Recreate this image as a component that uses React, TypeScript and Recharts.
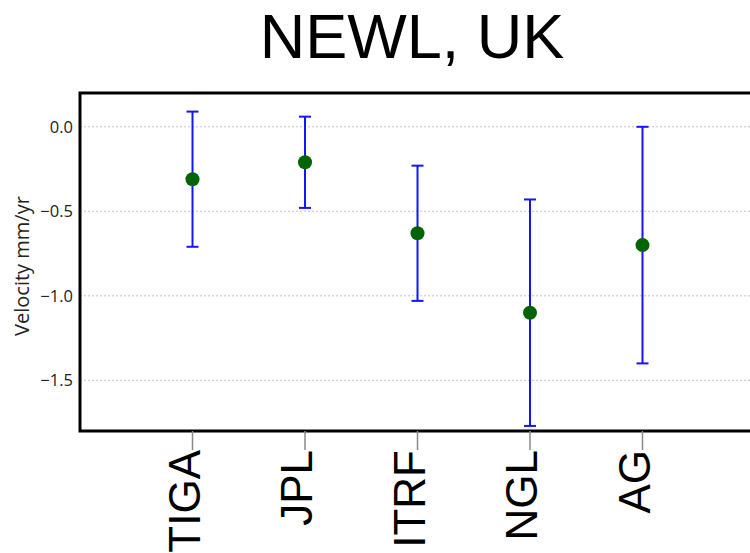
// App.tsx
//
// Velocity estimates for the NEWL (UK) station from five solutions,
// each shown as a point with a symmetric y error bar.

import React from "react";
import {
  ComposedChart,
  Scatter,
  ErrorBar,
  XAxis,
  YAxis,
  CartesianGrid,
  ReferenceArea,
} from "recharts";

const solutions = ["TIGA", "JPL", "ITRF", "NGL", "AG"];
const velocities = [-0.31, -0.21, -0.63, -1.1, -0.7];
const uncertainties = [0.4, 0.27, 0.4, 0.67, 0.7];
const yTicks = [-1.5, -1.0, -0.5, 0.0];
const xPositions = [1, 2, 3, 4, 5];

const data = solutions.map((name, i) => ({
  x: xPositions[i],
  name,
  v: velocities[i],
  err: uncertainties[i],
}));

function fmtTick(v: number) {
  const s = Math.abs(v).toFixed(1);
  return v < 0 ? `\u2212${s}` : s;
}

function CategoryTick(props: any) {
  const { x, y, payload } = props;
  const label = solutions[xPositions.indexOf(payload.value)] ?? "";
  return (
    <text
      x={x}
      y={y}
      dy={7}
      transform={`rotate(-90, ${x}, ${y})`}
      textAnchor="end"
      fontFamily="'Liberation Sans', Arial, sans-serif"
      fontSize={44}
      fill="#000"
    >
      {label}
    </text>
  );
}

function Dot(props: any) {
  return <circle cx={props.cx} cy={props.cy} r={7} fill="#006400" />;
}

export default function App() {
  return (
    <div
      style={{
        position: "absolute",
        left: 0,
        top: 0,
        width: 750,
        height: 553,
        overflow: "hidden",
        background: "#fff",
      }}
    >
      <div
        style={{
          position: "absolute",
          left: 112,
          top: 0,
          width: 600,
          textAlign: "center",
          fontFamily: "'Liberation Sans', Arial, sans-serif",
          fontSize: 63,
          lineHeight: "72px",
          color: "#000",
        }}
      >
        NEWL, UK
      </div>
      <ComposedChart
        width={780}
        height={553}
        data={data}
        margin={{ top: 93, right: 25, bottom: 0, left: 0 }}
      >
        <CartesianGrid
          vertical={false}
          stroke="#c4c4c4"
          strokeDasharray="2 2"
        />
        <XAxis
          xAxisId="top"
          orientation="top"
          type="number"
          dataKey="x"
          domain={[0, 6]}
          ticks={xPositions}
          height={0}
          axisLine={false}
          tickSize={23}
          tickLine={{ stroke: "#8a8a8a", strokeWidth: 1.5 }}
          tick={() => null}
        />
        <XAxis
          type="number"
          dataKey="x"
          domain={[0, 6]}
          ticks={xPositions}
          height={122}
          axisLine={false}
          tickSize={19}
          tickMargin={0}
          tickLine={{ stroke: "#8a8a8a", strokeWidth: 1.5 }}
          tick={<CategoryTick />}
          interval={0}
        />
        <YAxis
          type="number"
          domain={[-1.8, 0.2]}
          ticks={yTicks}
          allowDataOverflow
          width={80}
          axisLine={false}
          tickLine={false}
          tickSize={0}
          tickMargin={7}
          tickFormatter={fmtTick}
          tick={{
            fontFamily: "'Open Sans', sans-serif",
            fontSize: 16.5,
            fill: "#222",
          }}
          label={{
            content: (p: any) => {
              const vb = p.viewBox || {};
              const cy = (vb.y ?? 93) + (vb.height ?? 338) / 2 + 4;
              const cx = 21;
              return (
                <text
                  x={cx}
                  y={cy}
                  transform={`rotate(-90, ${cx}, ${cy})`}
                  textAnchor="middle"
                  dominantBaseline="central"
                  fontFamily="'Open Sans', sans-serif"
                  fontSize={20}
                  fill="#222"
                >
                  Velocity mm/yr
                </text>
              );
            },
          }}
        />
        <ReferenceArea
          x1={0}
          x2={6}
          y1={-1.8}
          y2={0.2}
          fill="none"
          stroke="#000"
          strokeWidth={3}
          ifOverflow="visible"
        />
        <Scatter dataKey="v" shape={<Dot />} isAnimationActive={false}>
          <ErrorBar
            dataKey="err"
            direction="y"
            width={6}
            stroke="#1414ff"
            strokeWidth={2}
            isAnimationActive={false}
          />
        </Scatter>
      </ComposedChart>
    </div>
  );
}
